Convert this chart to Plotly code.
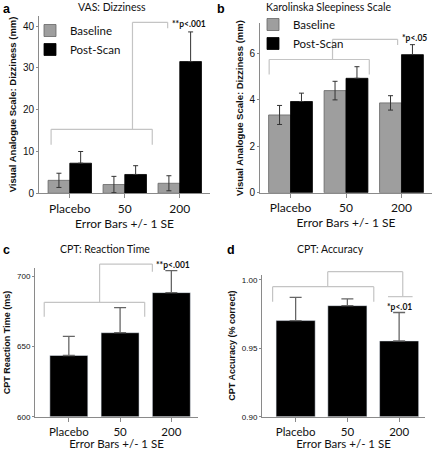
import plotly.graph_objects as go

# ---------------- data ----------------
doses = ["Placebo", "50", "200"]

vas_baseline = [3.1, 2.1, 2.4]
vas_baseline_se = [1.7, 1.95, 1.8]
vas_post = [7.2, 4.5, 31.5]
vas_post_se = [2.8, 2.1, 7.1]

kss_baseline = [3.35, 4.4, 3.87]
kss_baseline_se = [0.41, 0.4, 0.31]
kss_post = [3.93, 4.93, 5.95]
kss_post_se = [0.36, 0.5, 0.43]

rt_mean = [643.5, 659.7, 688.2]
rt_se = [13.6, 17.8, 15.6]

acc_mean = [0.9703, 0.9812, 0.9554]
acc_se = [0.017, 0.005, 0.0208]

# ---------------- styling ----------------
W, H = 435, 450
TXT = "Lato, 'Open Sans', sans-serif"
BOLD = "'Liberation Sans', Arial, sans-serif"
GRAY = "#9e9e9e"
AX = "#8a8a8a"
BR = "#c4c4c4"

ranges = {
    "a": dict(x=[-0.56, 2.55], y=[0, 42.5]),
    "b": dict(x=[-0.55, 2.55], y=[0, 7.3]),
    "c": dict(x=[-0.66, 2.52], y=[600, 705.5]),
    "d": dict(x=[-0.65, 2.5], y=[0.90, 1.004]),
}
doms = {
    "a": dict(x=[39 / W, 210 / W], y=[1 - 193.3 / H, 1 - 15.6 / H]),
    "b": dict(x=[260 / W, 432 / W], y=[1 - 192.7 / H, 1 - 23.3 / H]),
    "c": dict(x=[35 / W, 198 / W], y=[1 - 416.7 / H, 1 - 268.3 / H]),
    "d": dict(x=[262 / W, 425 / W], y=[1 - 416.7 / H, 1 - 274.5 / H]),
}
axid = {"a": "", "b": "2", "c": "3", "d": "4"}

fig = go.Figure()


def eb(se, upper_only=False, w=2.5, color="#333", th=1):
    d = dict(type="data", array=se, visible=True, color=color, thickness=th, width=w)
    if upper_only:
        d["symmetric"] = False
        d["arrayminus"] = [0] * len(se)
    return d


# panel a
fig.add_trace(go.Bar(x=doses, y=vas_baseline, name="Baseline", width=0.395, offset=-0.395,
                     marker=dict(color=GRAY, line=dict(color="#666", width=0.8)),
                     error_y=eb(vas_baseline_se), xaxis="x", yaxis="y", legend="legend"))
fig.add_trace(go.Bar(x=doses, y=vas_post, name="Post-Scan", width=0.395, offset=0,
                     marker=dict(color="black", line=dict(color="black", width=0.8)),
                     error_y=eb(vas_post_se, True), xaxis="x", yaxis="y", legend="legend"))
# panel b
fig.add_trace(go.Bar(x=doses, y=kss_baseline, name="Baseline", width=0.395, offset=-0.395,
                     marker=dict(color=GRAY, line=dict(color="#666", width=0.8)),
                     error_y=eb(kss_baseline_se), xaxis="x2", yaxis="y2", legend="legend2"))
fig.add_trace(go.Bar(x=doses, y=kss_post, name="Post-Scan", width=0.395, offset=0,
                     marker=dict(color="black", line=dict(color="black", width=0.8)),
                     error_y=eb(kss_post_se, True), xaxis="x2", yaxis="y2", legend="legend2"))
# panel c
fig.add_trace(go.Bar(x=doses, y=[v - 600 for v in rt_mean], base=600, width=0.74,
                     marker=dict(color="black"), showlegend=False,
                     error_y=eb(rt_se, True, 6, "#666", 1.3), xaxis="x3", yaxis="y3"))
# panel d
fig.add_trace(go.Bar(x=doses, y=[v - 0.90 for v in acc_mean], base=0.90, width=0.755,
                     marker=dict(color="black"), showlegend=False,
                     error_y=eb(acc_se, True, 6, "#666", 1.3), xaxis="x4", yaxis="y4"))

layout = dict(width=W, height=H, margin=dict(l=0, r=0, t=0, b=0, autoexpand=False),
              paper_bgcolor="white", plot_bgcolor="white", barmode="overlay",
              font=dict(family=TXT, color="black"))

for p in "abcd":
    small = p in "cd"
    layout["xaxis" + axid[p]] = dict(
        domain=doms[p]["x"], range=ranges[p]["x"], anchor="y" + axid[p], automargin=False,
        type="category", showline=True, linecolor=AX, linewidth=1,
        ticks="outside", ticklen=4, tickcolor=AX, showgrid=False, zeroline=False,
        tickfont=dict(family=TXT, size=12 if not small else 11.5, color="#111"),
        title=dict(text="Error Bars +/- 1 SE", standoff=0,
                   font=dict(family=TXT, size=12 if not small else 11.5, color="#111")),
    )
    layout["yaxis" + axid[p]] = dict(
        domain=doms[p]["y"], range=ranges[p]["y"], anchor="x" + axid[p], automargin=False,
        showline=True, linecolor=AX, linewidth=1, ticks="outside", ticklen=2,
        tickcolor=AX, showgrid=False, zeroline=False,
        tickfont=dict(family=BOLD, size=10 if not small else 8, color="#111"),
        title=dict(font=dict(family=BOLD, size=9.5 if not small else 9, color="#111"), standoff=4),
    )
layout["yaxis"]["tickvals"] = [0, 10, 20, 30, 40]
layout["yaxis"]["title"]["text"] = "<b>Visual Analogue Scale: Dizziness (mm)</b>"
layout["yaxis2"]["tickvals"] = [0, 2, 4, 6]
layout["yaxis2"]["title"]["text"] = "<b>Visual Analogue Scale: Dizziness (mm)</b>"
layout["yaxis3"]["tickvals"] = [600, 650, 700]
layout["yaxis3"]["title"]["text"] = "<b>CPT Reaction Time (ms)</b>"
layout["yaxis4"]["tickvals"] = [0.90, 0.95, 1.00]
layout["yaxis4"]["ticktext"] = ["0.90", "0.95", "1.00"]
layout["yaxis4"]["tickmode"] = "array"
layout["yaxis4"]["title"]["text"] = "<b>CPT Accuracy (% correct)</b>"

leg = dict(bgcolor="rgba(0,0,0,0)", borderwidth=0, font=dict(family=TXT, size=11.5, color="#111"),
           xanchor="left", yanchor="top", itemwidth=30, tracegroupgap=2, traceorder="normal")
layout["legend"] = dict(leg, x=30 / W, y=1 - 16 / H)
layout["legend2"] = dict(leg, x=253 / W, y=1 - 10 / H)

fig.update_layout(**layout)


# ---------- brackets (in data units, converted to axis-domain fractions) ----------
def fx(p, v):
    r = ranges[p]["x"]
    return (v - r[0]) / (r[1] - r[0])


def fy(p, v):
    r = ranges[p]["y"]
    return (v - r[0]) / (r[1] - r[0])


def seg(p, x0, y0, x1, y1):
    fig.add_shape(type="line", xref="x" + axid[p] + " domain", yref="y" + axid[p] + " domain",
                  x0=fx(p, x0), y0=fy(p, y0), x1=fx(p, x1), y1=fy(p, y1),
                  line=dict(color=BR, width=1.2))


# (x-left, x-right, y, tick-bottom, x-mid, y-top, x-top-right, top-tick-bottom)
brackets = {
    "a": (-0.34, 1.50, 15.3, 11.6, 1.14, 40.9, 1.78, 39.5),
    "b": (-0.385, 1.42, 5.74, 5.09, 0.757, 6.61, 1.93, 6.36),
    "c": (-0.48, 1.48, 681.3, 671.1, 0.60, 708.5, 1.63, 703.0),
    "d": (-0.445, 1.51, 0.9951, 0.9841, 0.62, 1.0061, 2.07, 0.9878),
}
for p, (xl, xr, yl, yt, xm, ytop, xtr, ytb) in brackets.items():
    seg(p, xl, yl, xr, yl)
    seg(p, xl, yl, xl, yt)
    seg(p, xr, yl, xr, yt)
    seg(p, xm, yl, xm, ytop)
    seg(p, xm, ytop, xtr, ytop)
    seg(p, xtr, ytop, xtr, ytb)
seg("d", 1.785, 0.9878, 2.26, 0.9878)

# p-value labels
pl = [("a", 1.83, 40.5, "**p<.001", "left"),
      ("b", 1.97, 6.67, "*p<.05", "left"),
      ("c", 1.66, 707.8, "**p<.001", "left"),
      ("d", 2.0, 0.9805, "*p<.01", "center")]
for p, x, y, t, anc in pl:
    fig.add_annotation(xref="x" + axid[p] + " domain", yref="y" + axid[p] + " domain",
                       x=fx(p, x), y=fy(p, y), text="<b>" + t + "</b>", showarrow=False,
                       xanchor=anc, yanchor="middle", font=dict(family=TXT, size=8.5, color="#111"))

# titles and panel letters (paper coordinates)
titles = [(112, 7, "VAS: Dizziness"), (328, 7, "Karolinska Sleepiness Scale"),
          (105, 249, "CPT: Reaction Time"), (330, 249, "CPT: Accuracy")]
for x, y, t in titles:
    fig.add_annotation(xref="paper", yref="paper", x=x / W, y=1 - y / H, text=t, showarrow=False,
                       xanchor="center", yanchor="middle", font=dict(family=TXT, size=10.5, color="#111"))
letters = [(1, 0, "a"), (215, 0, "b"), (1, 241, "c"), (225, 241, "d")]
for x, y, t in letters:
    fig.add_annotation(xref="paper", yref="paper", x=x / W, y=1 - y / H, text="<b>" + t + "</b>",
                       showarrow=False, xanchor="left", yanchor="top",
                       font=dict(family=BOLD, size=12.5, color="black"))

fig.write_html("out.html", config={"displayModeBar": False},
               post_script="document.body.style.margin='0';document.body.style.overflow='hidden';")
